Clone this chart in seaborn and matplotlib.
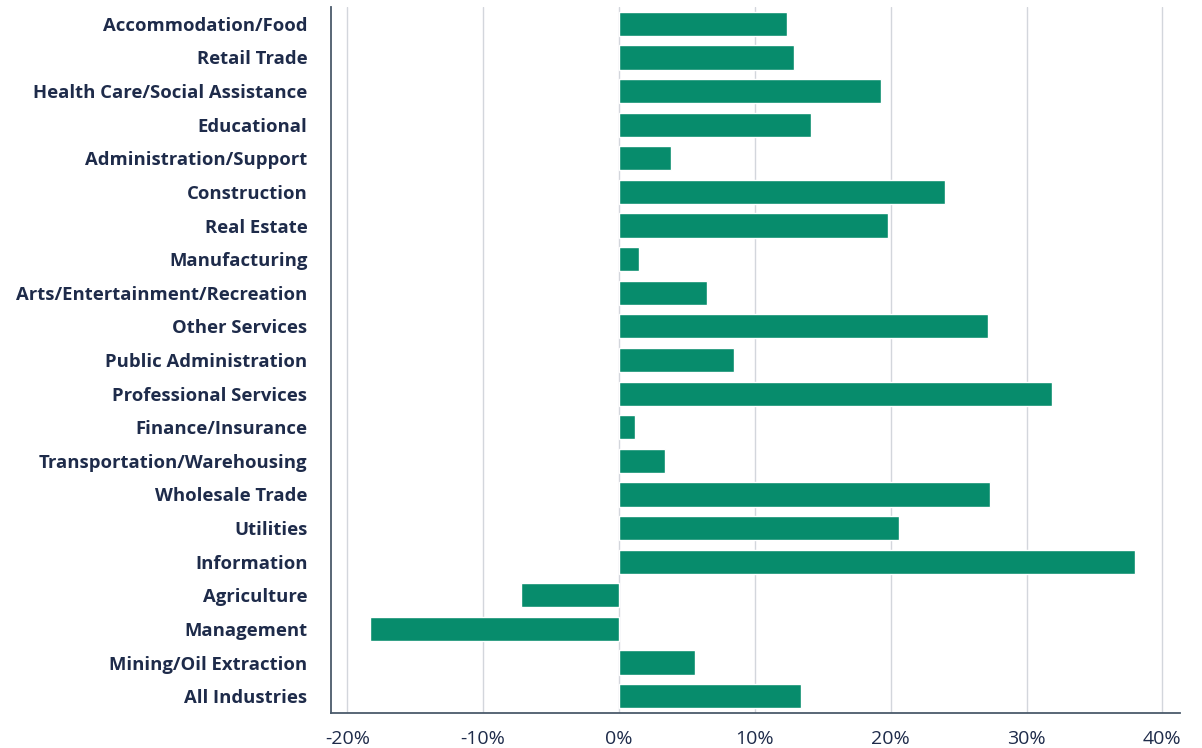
import pandas as pd
import seaborn as sns
import matplotlib.pyplot as plt
from matplotlib.ticker import FuncFormatter

industries = ["Accommodation/Food", "Retail Trade", "Health Care/Social Assistance",
              "Educational", "Administration/Support", "Construction", "Real Estate",
              "Manufacturing", "Arts/Entertainment/Recreation", "Other Services",
              "Public Administration", "Professional Services", "Finance/Insurance",
              "Transportation/Warehousing", "Wholesale Trade", "Utilities", "Information",
              "Agriculture", "Management", "Mining/Oil Extraction", "All Industries"]
change_pct = [12.4, 12.9, 19.3, 14.1, 3.8, 24.0, 19.8, 1.5, 6.5, 27.2, 8.5, 31.9,
              1.2, 3.4, 27.3, 20.6, 38.0, -7.2, -18.3, 5.6, 13.4]

df = pd.DataFrame({"industry": industries, "change": change_pct})

sns.set_style("white")
plt.rcParams['font.family'] = ['Open Sans', 'DejaVu Sans']

navy = "#1e2b4a"
spine = "#4b5a6b"

fig = plt.figure(figsize=(12.02, 7.48), dpi=100)
ax = fig.add_axes([0.2754, 0.0468, 0.7063, 0.9438])

ax.set_axisbelow(True)
ax.grid(axis="x", color="#d3d6dc", linewidth=1)
sns.barplot(data=df, x="change", y="industry", orient="h", color="#078c6c",
            saturation=1, width=0.72, ax=ax)

ax.set_xlim(-21.2, 41.3)
ax.set_xticks([-20, -10, 0, 10, 20, 30, 40])
ax.xaxis.set_major_formatter(FuncFormatter(lambda v, p: f"{v:.0f}%"))
ax.set_xlabel("")
ax.set_ylabel("")

for s in ["top", "right"]:
    ax.spines[s].set_visible(False)
for s in ["left", "bottom"]:
    ax.spines[s].set_color(spine)
    ax.spines[s].set_linewidth(1.3)

ax.tick_params(axis="y", length=8, width=1.3, color=spine, labelsize=13.3,
               labelcolor=navy, pad=9)
ax.tick_params(axis="x", length=8, width=1.3, color=spine, labelsize=14,
               labelcolor=navy, pad=4)
for lab in ax.get_yticklabels():
    lab.set_fontweight("bold")

fig.savefig("out.png", dpi=100)
